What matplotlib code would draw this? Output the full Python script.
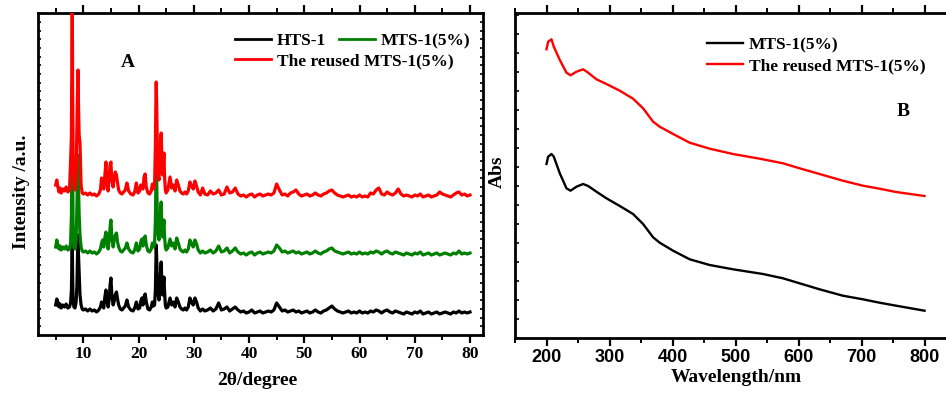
import matplotlib
matplotlib.use("Agg")
import matplotlib.pyplot as plt
from matplotlib.ticker import MultipleLocator, NullFormatter
from matplotlib.lines import Line2D

# ---------------- Panel A data (XRD) ----------------
two_theta = [
    5.0, 5.2, 5.4, 5.6, 5.8, 6.0, 6.3, 6.6, 6.9, 7.2,
    7.5, 7.7, 7.85, 7.93, 8.0, 8.07, 8.15, 8.3, 8.5, 8.7,
    8.85, 8.97, 9.05, 9.13, 9.25, 9.4, 9.6, 9.8, 10.0, 10.4,
    10.8, 11.2, 11.6, 12.0, 12.4, 12.8, 13.1, 13.3, 13.5, 13.7,
    13.9, 14.1, 14.3, 14.5, 14.7, 14.85, 15.0, 15.15, 15.4, 15.6,
    15.8, 16.0, 16.2, 16.4, 16.7, 17.0, 17.3, 17.6, 17.9, 18.2,
    18.6, 19.0, 19.3, 19.6, 19.9, 20.2, 20.4, 20.6, 20.8, 21.0,
    21.2, 21.4, 21.7, 22.0, 22.3, 22.5, 22.7, 22.9, 23.05, 23.13,
    23.2, 23.27, 23.4, 23.55, 23.7, 23.85, 24.0, 24.1, 24.2, 24.35,
    24.5, 24.6, 24.7, 24.85, 25.0, 25.3, 25.7, 26.0, 26.3, 26.6,
    26.9, 27.2, 27.5, 27.8, 28.1, 28.4, 28.7, 29.0, 29.3, 29.6,
    29.9, 30.2, 30.5, 30.8, 31.2, 31.6, 32.0, 32.5, 33.0, 33.5,
    34.0, 34.5, 35.0, 35.5, 36.0, 36.5, 37.0, 37.5, 38.0, 38.5,
    39.0, 39.5, 40.0, 40.5, 41.0, 41.5, 42.0, 42.5, 43.0, 43.5,
    44.0, 44.5, 45.0, 45.5, 46.0, 46.5, 47.0, 47.5, 48.0, 48.5,
    49.0, 49.5, 50.0, 50.5, 51.0, 51.5, 52.0, 52.5, 53.0, 53.5,
    54.0, 54.5, 55.0, 55.5, 56.0, 56.5, 57.0, 57.5, 58.0, 58.5,
    59.0, 59.5, 60.0, 60.5, 61.0, 61.5, 62.0, 62.5, 63.0, 63.5,
    64.0, 64.5, 65.0, 65.5, 66.0, 66.5, 67.0, 67.5, 68.0, 68.5,
    69.0, 69.5, 70.0, 70.5, 71.0, 71.5, 72.0, 72.5, 73.0, 73.5,
    74.0, 74.5, 75.0, 75.5, 76.0, 76.5, 77.0, 77.5, 78.0, 78.5,
    79.0, 79.5, 80.0,
]

hts1 = [
    30, 36, 33, 28, 31, 27, 30, 28, 31, 27,
    28, 32, 45, 70, 95, 60, 35, 28, 27, 33,
    50, 85, 100, 80, 62, 40, 30, 26, 25, 26,
    24, 26, 24, 25, 23, 25, 28, 33, 30, 27,
    38, 45, 34, 28, 36, 50, 57, 42, 30, 34,
    40, 43, 36, 30, 26, 25, 27, 29, 35, 28,
    25, 24, 27, 33, 26, 27, 34, 37, 30, 38,
    41, 33, 26, 25, 28, 33, 29, 30, 45, 70,
    90, 80, 55, 40, 35, 45, 65, 73, 55, 40,
    50, 58, 45, 30, 27, 28, 37, 30, 33, 28,
    37, 33, 28, 26, 25, 27, 25, 28, 37, 33,
    30, 37, 33, 27, 24, 26, 24, 25, 27, 24,
    26, 32, 25, 26, 28, 24, 26, 28, 25, 23,
    24, 22, 23, 25, 22, 23, 24, 22, 23, 24,
    23, 25, 32, 28, 24, 25, 23, 24, 25, 23,
    24, 22, 23, 24, 22, 23, 25, 23, 22, 24,
    25, 27, 29, 26, 24, 23, 22, 23, 24, 22,
    23, 22, 24, 22, 23, 22, 24, 23, 25, 24,
    22, 24, 25, 23, 22, 24, 23, 22, 21, 23,
    22, 21, 23, 22, 24, 21, 22, 23, 21, 22,
    23, 21, 22, 23, 22, 21, 23, 22, 24, 22,
    23, 22, 23,
]

mts1 = [
    88, 95, 90, 86, 89, 85, 88, 86, 89, 85,
    86, 92, 120, 190, 249, 170, 110, 88, 86, 95,
    130, 170, 180, 150, 120, 100, 88, 84, 83, 84,
    82, 84, 82, 83, 81, 83, 86, 92, 95, 88,
    97, 103, 92, 86, 95, 108, 115, 100, 88, 95,
    100, 102, 93, 88, 84, 83, 85, 87, 92, 86,
    83, 82, 85, 92, 84, 86, 93, 96, 89, 97,
    99, 90, 84, 83, 86, 92, 88, 90, 115, 150,
    176, 160, 120, 100, 95, 108, 125, 133, 112, 98,
    108, 115, 100, 88, 85, 87, 96, 89, 92, 86,
    97, 92, 86, 84, 83, 85, 83, 86, 95, 91,
    88, 95, 91, 85, 82, 84, 82, 83, 85, 82,
    84, 89, 83, 84, 87, 82, 84, 87, 83, 81,
    82, 80, 82, 83, 80, 82, 83, 81, 82, 83,
    82, 84, 90, 87, 83, 84, 82, 83, 84, 82,
    83, 81, 82, 83, 81, 82, 84, 82, 81, 83,
    84, 86, 87, 84, 83, 82, 81, 82, 83, 81,
    82, 81, 83, 81, 82, 81, 83, 82, 84, 83,
    81, 83, 84, 82, 81, 83, 82, 81, 80, 82,
    81, 80, 82, 81, 83, 80, 81, 82, 80, 81,
    82, 80, 81, 82, 81, 80, 82, 81, 84, 81,
    82, 81, 82,
]

reused = [
    150, 155, 148, 143, 147, 142, 146, 144, 148, 143,
    145, 173, 200, 280, 340, 250, 180, 150, 145, 160,
    210, 250, 265, 230, 200, 192, 150, 142, 141, 142,
    140, 142, 140, 141, 139, 141, 145, 157, 150, 146,
    160, 173, 150, 144, 160, 170, 173, 155, 148, 158,
    163, 160, 152, 145, 142, 141, 143, 145, 152, 144,
    141, 140, 143, 152, 142, 144, 150, 148, 146, 158,
    161, 148, 142, 141, 144, 151, 146, 148, 190, 230,
    253, 235, 190, 160, 155, 175, 195, 202, 180, 160,
    172, 182, 160, 145, 142, 145, 158, 147, 150, 144,
    155, 150, 144, 142, 141, 143, 141, 144, 153, 149,
    146, 154, 149, 143, 140, 147, 141, 140, 144, 141,
    142, 145, 140, 141, 148, 142, 143, 147, 141, 139,
    140, 138, 140, 141, 138, 140, 141, 139, 140, 141,
    140, 142, 151, 145, 140, 141, 139, 142, 143, 145,
    141, 139, 140, 141, 139, 140, 142, 140, 139, 141,
    142, 144, 145, 142, 140, 139, 138, 139, 140, 138,
    139, 138, 140, 138, 139, 138, 142, 141, 145, 147,
    141, 140, 143, 141, 140, 142, 146, 141, 139, 140,
    139, 138, 140, 139, 141, 138, 139, 140, 138, 139,
    140, 143, 141, 140, 139, 138, 140, 142, 143, 140,
    141, 139, 140,
]

# ---------------- Panel B data (UV-vis) ----------------
wavelength = [200, 202.6, 207.9, 211.6, 221.1, 231.7, 238.1, 247.6, 258.1, 266.1,
              279.3, 295.1, 316.3, 337.4, 353.3, 369.2, 379.7, 400.9, 427.3, 459.0,
              496.0, 543.6, 575.3, 601.7, 633.4, 670.4, 702.2, 728.6, 755.0, 800]
abs_mts1 = [1.740, 1.813, 1.840, 1.813, 1.647, 1.497, 1.473, 1.513, 1.540, 1.520,
            1.463, 1.397, 1.320, 1.240, 1.140, 1.007, 0.953, 0.873, 0.787, 0.730,
            0.687, 0.640, 0.597, 0.547, 0.487, 0.423, 0.387, 0.353, 0.323, 0.273]
abs_reused = [2.887, 2.963, 2.987, 2.913, 2.780, 2.653, 2.627, 2.663, 2.687, 2.653,
              2.587, 2.540, 2.473, 2.393, 2.297, 2.163, 2.113, 2.040, 1.953, 1.893,
              1.840, 1.787, 1.747, 1.697, 1.640, 1.573, 1.523, 1.493, 1.460, 1.420]

xrd_ticks = [10, 20, 30, 40, 50, 60, 70, 80]
uv_ticks = [200, 300, 400, 500, 600, 700, 800]

SERIF = "Liberation Serif"
SANS = "Liberation Sans"
RED = "#ff0000"
GREEN = "#008000"

fig = plt.figure(figsize=(9.46, 3.94), dpi=100)
W, H = 946, 394

def ax_rect(x0, y0, x1, y1):
    return [x0 / W, 1 - y1 / H, (x1 - x0) / W, (y1 - y0) / H]

axA = fig.add_axes(ax_rect(38, 13, 482.7, 335))
axB = fig.add_axes(ax_rect(515, 13, 956, 338))

for ax in (axA, axB):
    for sp in ax.spines.values():
        sp.set_linewidth(2.0)

# ----- Panel A -----
axA.plot(two_theta, hts1, color="black", lw=2.3, zorder=2)
axA.plot(two_theta, mts1, color=GREEN, lw=2.3, zorder=3)
axA.plot(two_theta, reused, color=RED, lw=2.3, zorder=4)
axA.set_xlim(1.8, 82.3)
axA.set_ylim(0, 322)
axA.set_xticks(xrd_ticks)
axA.xaxis.set_minor_locator(MultipleLocator(5))
axA.yaxis.set_major_locator(MultipleLocator(8.7))
axA.yaxis.set_major_formatter(NullFormatter())
axA.tick_params(axis="x", which="major", direction="out", length=6, width=1.6,
                top=True, labelsize=12.5, pad=2)
axA.tick_params(axis="x", which="minor", direction="out", length=3.5, width=1.4, top=True)
axA.tick_params(axis="y", which="major", direction="in", length=2.5, width=1.2,
                left=True, right=True)
for lab in axA.get_xticklabels():
    lab.set_fontfamily(SERIF)
    lab.set_fontweight("bold")
axA.set_xlabel("2θ/degree", fontfamily=SERIF, fontweight="bold", fontsize=14)
axA.xaxis.set_label_coords(0.494, -0.14)
axA.xaxis.label.set_va("center")
axA.set_ylabel("Intensity /a.u.", fontfamily=SERIF, fontweight="bold", fontsize=14)
axA.yaxis.set_label_coords(-0.036, 0.444)
axA.yaxis.label.set_va("center")
axA.text(0.202, 0.845, "A", transform=axA.transAxes, ha="center", va="center",
         fontfamily=SERIF, fontweight="bold", fontsize=14)

h_b = Line2D([], [], color="black", lw=2)
h_g = Line2D([], [], color=GREEN, lw=2)
h_r = Line2D([], [], color=RED, lw=2)
prop = {"family": SERIF, "weight": "bold", "size": 12.5}
legA1 = axA.legend([h_b, h_g], ["HTS-1", "MTS-1(5%)"], ncol=2, loc="upper left",
                   bbox_to_anchor=(0.443, 0.938), frameon=False, prop=prop,
                   borderpad=0, borderaxespad=0, handlelength=2.1,
                   handletextpad=0.3, columnspacing=0.75)
axA.add_artist(legA1)
axA.legend([h_r], ["The reused MTS-1(5%)"], loc="upper left",
           bbox_to_anchor=(0.443, 0.876), frameon=False, prop=prop,
           borderpad=0, borderaxespad=0, handlelength=2.1, handletextpad=0.3)

# ----- Panel B -----
axB.plot(wavelength, abs_mts1, color="black", lw=1.7, label="MTS-1(5%)")
axB.plot(wavelength, abs_reused, color=RED, lw=1.7, label="The reused MTS-1(5%)")
axB.set_xlim(150, 850)
axB.set_ylim(0, 3.25)
axB.set_xticks(uv_ticks)
axB.xaxis.set_minor_locator(MultipleLocator(50))
axB.yaxis.set_major_locator(MultipleLocator(0.19))
axB.yaxis.set_major_formatter(NullFormatter())
axB.tick_params(axis="x", which="major", direction="out", length=6, width=1.6,
                top=True, labelsize=13, pad=2)
axB.tick_params(axis="x", which="minor", direction="out", length=3.5, width=1.4, top=True)
axB.tick_params(axis="y", which="major", direction="in", length=3, width=1.2,
                left=True, right=True)
for lab in axB.get_xticklabels():
    lab.set_fontfamily(SANS)
    lab.set_fontweight("bold")
axB.set_xlabel("Wavelength/nm", fontfamily=SERIF, fontweight="bold", fontsize=14)
axB.xaxis.set_label_coords(0.501, -0.12)
axB.xaxis.label.set_va("center")
axB.set_ylabel("Abs", fontfamily=SERIF, fontweight="bold", fontsize=14)
axB.yaxis.set_label_coords(-0.041, 0.511)
axB.yaxis.label.set_va("center")
axB.text(0.880, 0.698, "B", transform=axB.transAxes, ha="center", va="center",
         fontfamily=SERIF, fontweight="bold", fontsize=14)
axB.legend(loc="upper left", bbox_to_anchor=(0.435, 0.926), frameon=False, prop=prop,
           borderpad=0, borderaxespad=0, handlelength=2.1, handletextpad=0.3,
           labelspacing=0.3)

fig.savefig("out.png", dpi=100)
